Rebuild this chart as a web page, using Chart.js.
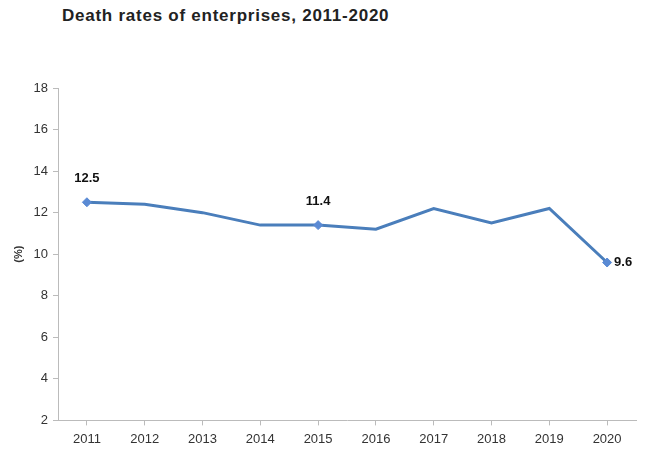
<!DOCTYPE html>
<html>
<head>
<meta charset="utf-8">
<script src="https://cdn.jsdelivr.net/npm/chart.js@4.4.1/dist/chart.umd.min.js"></script>
<style>
  body { margin: 0; background: #fff; }
  #wrap { position: relative; width: 646px; height: 453px; }
  #title {
    position: absolute; left: 62px; top: 6px;
    font: bold 17px "Liberation Sans", Arial, sans-serif; color: #222;
    letter-spacing: 0.75px;
  }
  canvas { position: absolute; left: 0; top: 0; }
</style>
</head>
<body>
<div id="wrap">
  <div id="title">Death rates of enterprises, 2011-2020</div>
  <canvas id="chart" width="646" height="453"></canvas>
</div>
<script>
// data
let years = ["2011", "2012", "2013", "2014", "2015", "2016", "2017", "2018", "2019", "2020"];
let deathRate = [12.5, 12.4, 12.0, 11.4, 11.4, 11.2, 12.2, 11.5, 12.2, 9.6];
// points that carry a marker and a value label
let labelled = [0, 4, 9];

let lineColor = "#4a7ebb";

// draw the value labels next to the marked points
const valueLabels = {
  id: "valueLabels",
  afterDatasetsDraw(chart) {
    let ctx = chart.ctx;
    let meta = chart.getDatasetMeta(0);
    ctx.save();
    ctx.font = "bold 13px 'Liberation Sans', Arial, sans-serif";
    ctx.fillStyle = "#111";
    ctx.textBaseline = "middle";
    labelled.forEach(i => {
      let pt = meta.data[i];
      let txt = deathRate[i].toFixed(1);
      if (i === deathRate.length - 1) {
        ctx.textAlign = "left";
        ctx.fillText(txt, pt.x + 7, pt.y);
      } else {
        ctx.textAlign = "center";
        ctx.fillText(txt, pt.x, pt.y - 24);
      }
    });
    ctx.restore();
  }
};

new Chart(document.getElementById("chart"), {
  type: "line",
  data: {
    labels: years,
    datasets: [{
      data: deathRate,
      borderColor: lineColor,
      borderWidth: 3,
      tension: 0,
      pointStyle: "rectRot",
      pointRadius: deathRate.map((v, i) => labelled.includes(i) ? 4.5 : 0),
      pointBackgroundColor: "#5a8ad4",
      pointBorderColor: "#5a8ad4",
      pointBorderWidth: 1
    }]
  },
  options: {
    responsive: false,
    animation: false,
    layout: { padding: { top: 88, right: 10, bottom: 0, left: 12 } },
    plugins: {
      legend: { display: false },
      tooltip: { enabled: false }
    },
    scales: {
      x: {
        offset: true,
        grid: { drawOnChartArea: false, drawTicks: true, tickLength: 5, color: "#bbb" },
        border: { color: "#bbb" },
        ticks: {
          color: "#333",
          font: { family: "'Liberation Sans', Arial, sans-serif", size: 13 },
          padding: 6,
          maxRotation: 0
        }
      },
      y: {
        min: 2,
        max: 18,
        grid: { drawOnChartArea: false, drawTicks: true, tickLength: 5, color: "#bbb" },
        border: { color: "#bbb" },
        ticks: {
          stepSize: 2,
          color: "#333",
          font: { family: "'Liberation Sans', Arial, sans-serif", size: 13 },
          padding: 5
        },
        title: {
          display: true,
          text: "(%)",
          color: "#333",
          font: { family: "'Liberation Sans', Arial, sans-serif", size: 11, weight: "bold" },
          padding: { top: 0, bottom: 0 }
        },
        afterFit(scale) { scale.width = 46; }
      }
    }
  },
  plugins: [valueLabels]
});
</script>
</body>
</html>
